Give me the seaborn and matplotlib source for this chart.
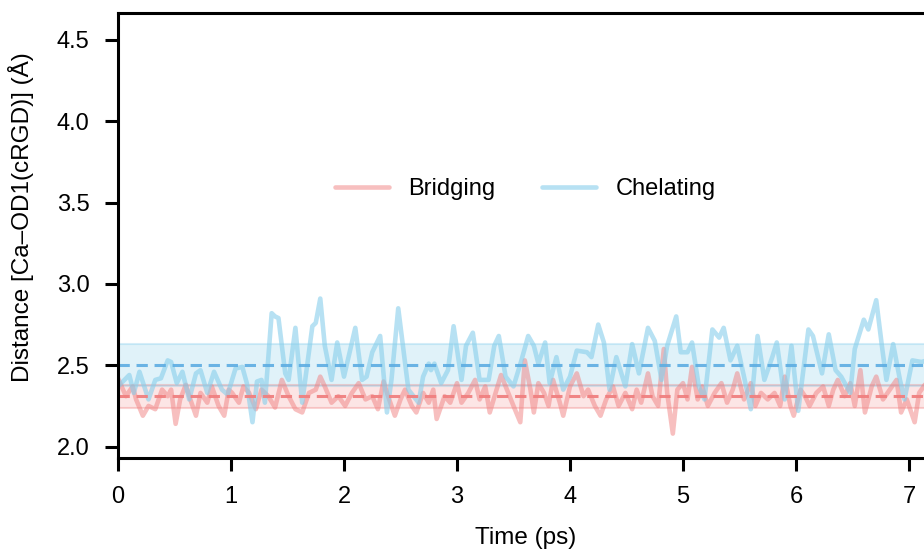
import numpy as np
import matplotlib
matplotlib.use("Agg")
import matplotlib.pyplot as plt
import seaborn as sns

sns.set_style("ticks")
plt.rcParams['font.family'] = ['Liberation Sans', 'DejaVu Sans']
plt.rcParams.update({"text.color": "black", "axes.labelcolor": "black",
                     "xtick.color": "black", "ytick.color": "black"})

# values (time in ps, distance in Angstrom)
bridging_time = [0.00, 0.07, 0.13, 0.16, 0.22, 0.27, 0.33, 0.39, 0.44, 0.47,
                 0.51, 0.55, 0.60, 0.64, 0.69, 0.73, 0.79, 0.83, 0.89, 0.94,
                 0.98, 1.01, 1.07, 1.11, 1.16, 1.22, 1.27, 1.33, 1.39, 1.45,
                 1.51, 1.57, 1.63, 1.69, 1.75, 1.79, 1.83, 1.89, 1.95, 2.01,
                 2.07, 2.13, 2.19, 2.25, 2.30, 2.35, 2.39, 2.45, 2.50, 2.54,
                 2.60, 2.64, 2.70, 2.75, 2.79, 2.82, 2.89, 2.94, 3.00, 3.04,
                 3.10, 3.16, 3.20, 3.25, 3.29, 3.35, 3.39, 3.50, 3.56, 3.60,
                 3.65, 3.68, 3.72, 3.77, 3.81, 3.85, 3.91, 3.94, 4.00, 4.06,
                 4.12, 4.16, 4.22, 4.27, 4.32, 4.38, 4.43, 4.49, 4.55, 4.59,
                 4.63, 4.69, 4.73, 4.78, 4.83, 4.86, 4.91, 4.95, 5.00, 5.04,
                 5.08, 5.13, 5.17, 5.22, 5.28, 5.34, 5.39, 5.44, 5.48, 5.54,
                 5.60, 5.64, 5.69, 5.75, 5.81, 5.86, 5.90, 5.95, 5.98, 6.04,
                 6.08, 6.12, 6.18, 6.24, 6.29, 6.33, 6.37, 6.43, 6.48, 6.52,
                 6.57, 6.61, 6.67, 6.71, 6.77, 6.83, 6.89, 6.93, 6.98, 7.05,
                 7.09, 7.15]
bridging_dist = [2.42, 2.31, 2.37, 2.29, 2.19, 2.25, 2.23, 2.35, 2.31, 2.35,
                 2.14, 2.29, 2.38, 2.29, 2.19, 2.33, 2.27, 2.37, 2.25, 2.19,
                 2.35, 2.33, 2.27, 2.37, 2.33, 2.23, 2.35, 2.31, 2.24, 2.41,
                 2.31, 2.23, 2.21, 2.33, 2.35, 2.43, 2.37, 2.27, 2.31, 2.25,
                 2.33, 2.39, 2.29, 2.31, 2.23, 2.40, 2.31, 2.19, 2.29, 2.35,
                 2.25, 2.21, 2.33, 2.27, 2.35, 2.17, 2.31, 2.27, 2.39, 2.27,
                 2.33, 2.41, 2.29, 2.37, 2.21, 2.35, 2.44, 2.25, 2.15, 2.53,
                 2.35, 2.21, 2.39, 2.33, 2.25, 2.41, 2.27, 2.19, 2.37, 2.45,
                 2.31, 2.35, 2.25, 2.19, 2.29, 2.37, 2.25, 2.33, 2.23, 2.35,
                 2.27, 2.45, 2.31, 2.25, 2.60, 2.33, 2.08, 2.35, 2.39, 2.29,
                 2.49, 2.29, 2.37, 2.25, 2.33, 2.39, 2.27, 2.35, 2.45, 2.29,
                 2.39, 2.25, 2.33, 2.29, 2.33, 2.25, 2.43, 2.25, 2.19, 2.35,
                 2.31, 2.25, 2.33, 2.37, 2.25, 2.35, 2.41, 2.31, 2.39, 2.25,
                 2.47, 2.21, 2.37, 2.43, 2.29, 2.35, 2.41, 2.21, 2.29, 2.15,
                 2.33, 2.39]

chelating_time = [0.00, 0.10, 0.14, 0.19, 0.27, 0.33, 0.38, 0.44, 0.47, 0.52,
                  0.57, 0.63, 0.69, 0.73, 0.79, 0.85, 0.92, 0.97, 1.04, 1.10,
                  1.14, 1.19, 1.23, 1.27, 1.30, 1.36, 1.39, 1.42, 1.48, 1.51,
                  1.57, 1.63, 1.72, 1.75, 1.79, 1.83, 1.89, 1.94, 2.00, 2.10,
                  2.16, 2.20, 2.25, 2.32, 2.38, 2.42, 2.48, 2.57, 2.66, 2.70,
                  2.75, 2.77, 2.80, 2.86, 2.92, 2.97, 3.04, 3.08, 3.14, 3.20,
                  3.28, 3.33, 3.37, 3.43, 3.50, 3.57, 3.63, 3.68, 3.72, 3.78,
                  3.82, 3.88, 3.94, 4.00, 4.06, 4.15, 4.19, 4.25, 4.30, 4.35,
                  4.41, 4.49, 4.55, 4.61, 4.69, 4.75, 4.81, 4.86, 4.94, 4.98,
                  5.04, 5.08, 5.14, 5.19, 5.26, 5.32, 5.36, 5.42, 5.48, 5.54,
                  5.60, 5.66, 5.72, 5.79, 5.83, 5.90, 5.96, 6.02, 6.11, 6.15,
                  6.23, 6.29, 6.35, 6.40, 6.48, 6.52, 6.60, 6.64, 6.71, 6.76,
                  6.80, 6.86, 6.92, 6.96, 7.03, 7.11, 7.16]
chelating_dist = [2.37, 2.44, 2.33, 2.46, 2.29, 2.41, 2.42, 2.53, 2.52, 2.39,
                  2.46, 2.29, 2.45, 2.47, 2.33, 2.46, 2.35, 2.32, 2.48, 2.49,
                  2.39, 2.15, 2.40, 2.41, 2.27, 2.82, 2.80, 2.79, 2.45, 2.41,
                  2.73, 2.27, 2.74, 2.76, 2.91, 2.62, 2.41, 2.64, 2.43, 2.73,
                  2.41, 2.43, 2.58, 2.68, 2.21, 2.41, 2.85, 2.35, 2.27, 2.43,
                  2.51, 2.47, 2.51, 2.39, 2.47, 2.74, 2.41, 2.62, 2.70, 2.41,
                  2.41, 2.62, 2.68, 2.43, 2.37, 2.53, 2.68, 2.62, 2.51, 2.64,
                  2.39, 2.55, 2.35, 2.43, 2.59, 2.58, 2.55, 2.75, 2.64, 2.35,
                  2.55, 2.37, 2.63, 2.45, 2.73, 2.65, 2.41, 2.62, 2.80, 2.58,
                  2.58, 2.64, 2.37, 2.29, 2.72, 2.67, 2.73, 2.53, 2.62, 2.43,
                  2.23, 2.68, 2.41, 2.55, 2.64, 2.29, 2.62, 2.22, 2.72, 2.68,
                  2.45, 2.69, 2.47, 2.43, 2.33, 2.60, 2.78, 2.72, 2.90, 2.62,
                  2.41, 2.63, 2.41, 2.29, 2.53, 2.52, 2.53]

# mean and +/- 1 std bands
bridging_mean, bridging_std = 2.31, 0.07
chelating_mean, chelating_std = 2.50, 0.13

red = "#F08080"
blue = "#87CEEB"
blue_dark = "#5DADE2"

fig = plt.figure(figsize=(9.24, 5.5), dpi=100)
# axes run past the right edge of the figure, like the reference crop
ax = fig.add_axes([118 / 924, 92 / 550, 1130 / 924, 445 / 550])

for m, s, c, a in [(bridging_mean, bridging_std, red, 0.2),
                   (chelating_mean, chelating_std, blue, 0.25)]:
    ax.axhspan(m - s, m + s, facecolor=c, alpha=a, lw=0)
    ax.axhline(m - s, color=c, alpha=0.35, lw=1.5)
    ax.axhline(m + s, color=c, alpha=0.35, lw=1.5)

sns.lineplot(x=bridging_time, y=bridging_dist, ax=ax, color=red, alpha=0.5,
             lw=3.3, label="Bridging", solid_joinstyle="round")
sns.lineplot(x=chelating_time, y=chelating_dist, ax=ax, color=blue, alpha=0.6,
             lw=3.3, label="Chelating", solid_joinstyle="round")

ax.axhline(bridging_mean, color=red, lw=2.2, ls=(0, (3.7, 2.2)), alpha=0.95)
ax.axhline(chelating_mean, color=blue_dark, lw=2.2, ls=(0, (3.7, 2.2)), alpha=0.9)

ax.set_xlim(0, 10)
ax.set_ylim(1.93, 4.665)
ax.set_xticks(np.arange(0, 8, 1))
ax.set_yticks(np.arange(2.0, 4.51, 0.5))
ax.set_xlabel("Time (ps)", fontsize=17.5)
ax.set_ylabel("Distance [Ca–OD1(cRGD)] (Å)", fontsize=17.5)
ax.xaxis.set_label_coords((526 - 118) / 1130, -0.155)
ax.yaxis.set_label_coords(-0.0743, 0.542)
ax.tick_params(axis="both", labelsize=17, length=9.5, width=2.2, pad=11)
for sp in ax.spines.values():
    sp.set_linewidth(2.2)
    sp.set_color("black")

ax.legend(loc="center", bbox_to_anchor=(525 / 924, (550 - 189) / 550),
          bbox_transform=fig.transFigure, ncol=2, frameon=False, fontsize=17,
          handlelength=2.3, columnspacing=2.0, handletextpad=0.8)

fig.savefig("out.png", dpi=100)
